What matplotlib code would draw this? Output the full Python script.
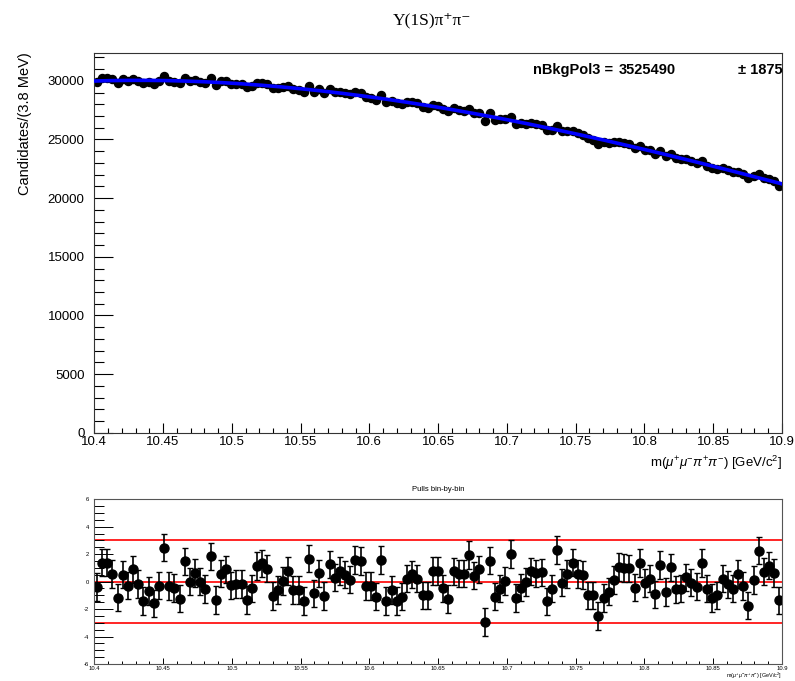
"""Upsilon(1S) pi+ pi- background fit: mass spectrum with Pol3 model and bin-by-bin pulls."""
import numpy as np
import matplotlib
matplotlib.use("Agg")
import matplotlib.pyplot as plt
from matplotlib.ticker import MultipleLocator, FuncFormatter

plt.rcParams["font.family"] = ["Liberation Sans", "DejaVu Sans"]
plt.rcParams["mathtext.fontset"] = "custom"
plt.rcParams["mathtext.rm"] = "Liberation Sans"
plt.rcParams["mathtext.it"] = "Liberation Sans:italic"

m_lo, m_hi = 10.4, 10.9

# bin-by-bin pulls (data - fit) / sigma
pulls = [
    -0.41, 1.37, 1.37, 0.55, -1.16, 0.50, -0.29, 0.89, -0.19, -1.42,
    -0.67, -1.59, -0.29, 2.48, -0.31, -0.46, -1.25, 1.47, 0.00, 0.63,
    0.00, -0.53, 1.83, -1.33, 0.58, 0.89, -0.27, -0.19, -0.19, -1.33,
    -0.50, 1.14, 1.33, 0.94, -1.04, -0.63, 0.05, 0.77, -0.63, -0.63,
    -1.40, 1.67, -0.85, 0.60, -1.04, 1.26, 0.29, 0.77, 0.50, 0.15,
    1.57, 1.50, -0.31, -0.31, -1.09, 1.57, -1.40, -0.60, -1.40, -1.09,
    0.22, 0.53, 0.22, -1.00, -1.00, 0.77, 0.77, -0.50, -1.27, 0.75,
    0.57, 0.57, 1.93, 0.44, 0.88, -2.93, 1.53, -1.10, -0.52, 0.05,
    2.00, -1.18, -0.44, -0.03, 0.75, 0.60, 0.68, -1.45, -0.51, 2.30,
    -0.07, 0.54, 1.37, 0.54, 0.48, -1.00, -1.00, -2.52, -1.18, -0.74,
    0.10, 1.06, 0.98, 0.96, -0.44, 1.36, -0.12, 0.22, -0.94, 1.21,
    -0.77, 1.04, -0.57, -0.52, 0.30, -0.07, -0.37, 1.36, -0.52, -1.19,
    -1.01, 0.22, -0.20, -0.52, 0.54, -0.32, -1.75, 0.12, 2.25, 0.72,
    1.16, 0.62, -1.36,
]

# Pol3 background shape, t = (m - 10.65) / 0.25
pol3_coef = [27750.0, -4890.0, -2150.0, 505.0]
n_bkg, n_bkg_err = 3525490, 1875


def bkg_pol3(m):
    t = (np.asarray(m) - 10.65) / 0.25
    return sum(c * t**i for i, c in enumerate(pol3_coef))


nbins = len(pulls)
edges = np.linspace(m_lo, m_hi, nbins + 1)
centers = 0.5 * (edges[1:] + edges[:-1])
expected = bkg_pol3(centers)
counts = expected + np.array(pulls) * np.sqrt(expected)

fig = plt.figure(figsize=(7.95, 6.81), dpi=100)
ax = fig.add_axes([0.1186, 0.3646, 0.8650, 0.5580])
axp = fig.add_axes([0.1186, 0.0250, 0.8650, 0.2420])

# --- main panel
ax.errorbar(centers, counts, yerr=np.sqrt(counts), fmt="o", color="black",
            ms=5.8, elinewidth=1.0, capsize=0, zorder=2)
mm = np.linspace(m_lo, m_hi, 500)
ax.plot(mm, bkg_pol3(mm), color="blue", lw=2.6, zorder=3)

ax.set_xlim(m_lo, m_hi)
ax.set_ylim(0, 32400)
ax.xaxis.set_major_locator(MultipleLocator(0.05))
ax.xaxis.set_minor_locator(MultipleLocator(0.01))
ax.yaxis.set_major_locator(MultipleLocator(5000))
ax.yaxis.set_minor_locator(MultipleLocator(1000))
ax.xaxis.set_major_formatter(FuncFormatter(lambda v, p: f"{v:g}"))
ax.tick_params(which="both", direction="in", top=False, right=False,
               labelsize=9.5, width=0.8)
ax.tick_params(axis="y", which="major", length=14, pad=7)
ax.tick_params(axis="y", which="minor", length=7)
ax.tick_params(axis="x", which="major", length=7, pad=2.5)
ax.tick_params(axis="x", which="minor", length=3.5)
for s in ax.spines.values():
    s.set_linewidth(0.8)
    s.set_color("#333333")
ax.set_ylabel("Candidates/(3.8 MeV)", loc="top", fontsize=10.5, labelpad=11)
ax.set_xlabel(r"m($\mu^{+}\mu^{-}\pi^{+}\pi^{-}$) [GeV/c$^{2}$]", loc="right",
              fontsize=9.5, labelpad=4)

# fitted yield box, upper right
y_txt = 1 - 70 / 681
fig.text(533 / 795, y_txt, "nBkgPol3 =", fontsize=10.5, fontweight="bold",
         va="center", ha="left")
fig.text(619 / 795, y_txt, f"{n_bkg}", fontsize=10.5, fontweight="bold",
         va="center", ha="left")
fig.text(783 / 795, y_txt, f"\u00b1 {n_bkg_err}", fontsize=10.5,
         fontweight="bold", va="center", ha="right")

fig.text(432 / 795, 1 - 20 / 681, "\u03a5(1S)\u03c0\u207a\u03c0\u207b",
         family=["Liberation Serif", "DejaVu Serif"], fontsize=12.5,
         ha="center", va="center")

# --- pull panel
for lvl in (-3, 0, 3):
    axp.axhline(lvl, color="red", lw=1.2, zorder=1)
axp.errorbar(centers, pulls, yerr=1.0, fmt="o", color="black", ms=6.5,
             elinewidth=1.2, capsize=2.2, capthick=1.0, zorder=2)
axp.set_xlim(m_lo, m_hi)
axp.set_ylim(-6, 6)
axp.xaxis.set_major_locator(MultipleLocator(0.05))
axp.xaxis.set_minor_locator(MultipleLocator(0.01))
axp.yaxis.set_major_locator(MultipleLocator(2))
axp.yaxis.set_minor_locator(MultipleLocator(0.5))
axp.xaxis.set_major_formatter(FuncFormatter(lambda v, p: f"{v:g}"))
axp.yaxis.set_major_formatter(FuncFormatter(lambda v, p: f"{v:g}"))
axp.tick_params(which="both", direction="in", top=False, right=False,
                labelsize=4.2, width=0.7)
axp.tick_params(axis="y", which="major", length=14, pad=4)
axp.tick_params(axis="y", which="minor", length=7)
axp.tick_params(axis="x", which="major", length=4, pad=1.5)
axp.tick_params(axis="x", which="minor", length=2)
for s in axp.spines.values():
    s.set_linewidth(0.8)
    s.set_color("#555555")
axp.set_title("Pulls bin-by-bin", fontsize=5.5, pad=6)
axp.set_xlabel(r"m($\mu^{+}\mu^{-}\pi^{+}\pi^{-}$) [GeV/c$^{2}$]", loc="right",
               fontsize=4.0, labelpad=0)

fig.savefig("out.png", dpi=100)
